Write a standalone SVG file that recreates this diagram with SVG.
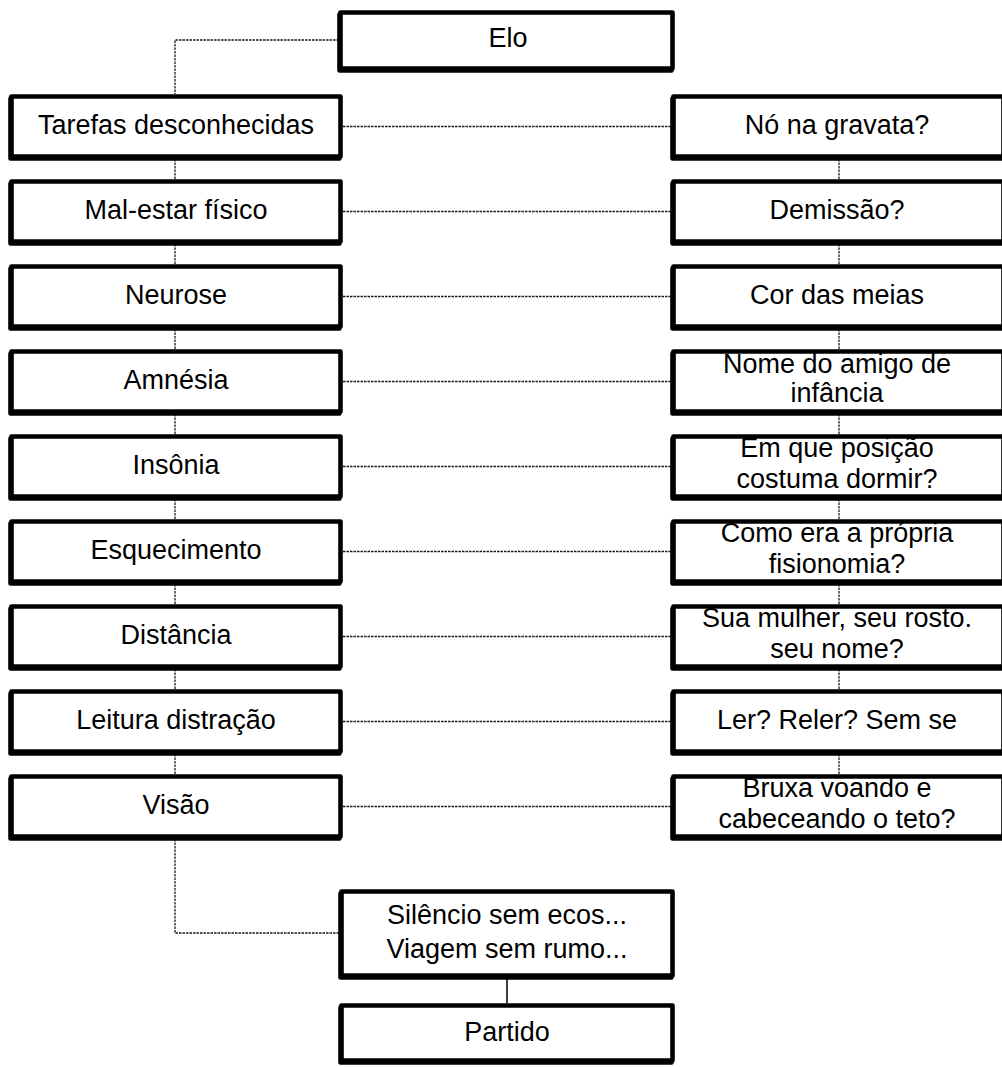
<svg xmlns="http://www.w3.org/2000/svg" width="1002" height="1067" viewBox="0 0 1002 1067">
  <defs>
    <!-- hard black offset shadow: thickens the left and bottom border of each box -->
    <filter id="edge" x="-5%" y="-10%" width="110%" height="120%">
      <feOffset in="SourceAlpha" dx="-1.2" dy="1.5" result="off"/>
      <feMerge>
        <feMergeNode in="off"/>
        <feMergeNode in="SourceGraphic"/>
      </feMerge>
    </filter>
  </defs>
  <style>
    .box { fill: #ffffff; stroke: #000000; stroke-width: 4.6; stroke-linejoin: round; filter: url(#edge); }
    .lbl { font-family: "Liberation Sans", Arial, sans-serif; font-size: 27px; fill: #000000; text-anchor: middle; }
    .dot { fill: none; stroke: #1a1a1a; stroke-width: 1.3; stroke-dasharray: 2.5 1; }
    .solid { fill: none; stroke: #000000; stroke-width: 1.5; }
  </style>
  <rect width="1002" height="1067" fill="#ffffff"/>

  <!-- connectors -->
  <g id="connectors">
    <polyline class="dot" points="339,40 175,40 175,94"/>
    <!-- left column spine -->
    <line class="dot" x1="175" y1="159" x2="175" y2="179"/>
    <line class="dot" x1="175" y1="244" x2="175" y2="264"/>
    <line class="dot" x1="175" y1="329" x2="175" y2="349"/>
    <line class="dot" x1="175" y1="414" x2="175" y2="434"/>
    <line class="dot" x1="175" y1="499" x2="175" y2="519"/>
    <line class="dot" x1="175" y1="584" x2="175" y2="604"/>
    <line class="dot" x1="175" y1="669" x2="175" y2="689"/>
    <line class="dot" x1="175" y1="754" x2="175" y2="774"/>
    <!-- right column spine -->
    <line class="dot" x1="839" y1="159" x2="839" y2="179"/>
    <line class="dot" x1="839" y1="244" x2="839" y2="264"/>
    <line class="dot" x1="839" y1="329" x2="839" y2="349"/>
    <line class="dot" x1="839" y1="414" x2="839" y2="434"/>
    <line class="dot" x1="839" y1="499" x2="839" y2="519"/>
    <line class="dot" x1="839" y1="584" x2="839" y2="604"/>
    <line class="dot" x1="839" y1="669" x2="839" y2="689"/>
    <line class="dot" x1="839" y1="754" x2="839" y2="774"/>
    <!-- row links -->
    <line class="dot" x1="343" y1="126.5" x2="671" y2="126.5"/>
    <line class="dot" x1="343" y1="211.5" x2="671" y2="211.5"/>
    <line class="dot" x1="343" y1="296.5" x2="671" y2="296.5"/>
    <line class="dot" x1="343" y1="381.5" x2="671" y2="381.5"/>
    <line class="dot" x1="343" y1="466.5" x2="671" y2="466.5"/>
    <line class="dot" x1="343" y1="551.5" x2="671" y2="551.5"/>
    <line class="dot" x1="343" y1="636.5" x2="671" y2="636.5"/>
    <line class="dot" x1="343" y1="721.5" x2="671" y2="721.5"/>
    <line class="dot" x1="343" y1="806.5" x2="671" y2="806.5"/>
    <!-- bottom -->
    <polyline class="dot" points="175,839 175,933 339,933"/>
    <line class="solid" x1="507" y1="978" x2="507" y2="1003"/>
  </g>

  <g id="n-elo">
    <rect class="box" x="340.5" y="12.5" width="332" height="56"/>
    <text class="lbl" x="508" y="47">Elo</text>
  </g>

  <!-- left column -->
  <g id="n-tarefas">
    <rect class="box" x="11.5" y="96.5" width="329" height="60"/>
    <text class="lbl" x="176" y="134">Tarefas desconhecidas</text>
  </g>
  <g id="n-malestar">
    <rect class="box" x="11.5" y="181.5" width="329" height="60"/>
    <text class="lbl" x="176" y="219">Mal-estar físico</text>
  </g>
  <g id="n-neurose">
    <rect class="box" x="11.5" y="266.5" width="329" height="60"/>
    <text class="lbl" x="176" y="304">Neurose</text>
  </g>
  <g id="n-amnesia">
    <rect class="box" x="11.5" y="351.5" width="329" height="60"/>
    <text class="lbl" x="176" y="389">Amnésia</text>
  </g>
  <g id="n-insonia">
    <rect class="box" x="11.5" y="436.5" width="329" height="60"/>
    <text class="lbl" x="176" y="474">Insônia</text>
  </g>
  <g id="n-esquecimento">
    <rect class="box" x="11.5" y="521.5" width="329" height="60"/>
    <text class="lbl" x="176" y="559">Esquecimento</text>
  </g>
  <g id="n-distancia">
    <rect class="box" x="11.5" y="606.5" width="329" height="60"/>
    <text class="lbl" x="176" y="644">Distância</text>
  </g>
  <g id="n-leitura">
    <rect class="box" x="11.5" y="691.5" width="329" height="60"/>
    <text class="lbl" x="176" y="729">Leitura distração</text>
  </g>
  <g id="n-visao">
    <rect class="box" x="11.5" y="776.5" width="329" height="60"/>
    <text class="lbl" x="176" y="814">Visão</text>
  </g>

  <!-- right column -->
  <g id="n-no">
    <rect class="box" x="673.5" y="96.5" width="330" height="60"/>
    <text class="lbl" x="837" y="134">Nó na gravata?</text>
  </g>
  <g id="n-demissao">
    <rect class="box" x="673.5" y="181.5" width="330" height="60"/>
    <text class="lbl" x="837" y="219">Demissão?</text>
  </g>
  <g id="n-cor">
    <rect class="box" x="673.5" y="266.5" width="330" height="60"/>
    <text class="lbl" x="837" y="304">Cor das meias</text>
  </g>
  <g id="n-nome">
    <rect class="box" x="673.5" y="351.5" width="330" height="60"/>
    <text class="lbl" x="837" y="373">Nome do amigo de</text>
    <text class="lbl" x="837" y="402">infância</text>
  </g>
  <g id="n-posicao">
    <rect class="box" x="673.5" y="436.5" width="330" height="60"/>
    <text class="lbl" x="837" y="457">Em que posição</text>
    <text class="lbl" x="837" y="488">costuma dormir?</text>
  </g>
  <g id="n-fisionomia">
    <rect class="box" x="673.5" y="521.5" width="330" height="60"/>
    <text class="lbl" x="837" y="542">Como era a própria</text>
    <text class="lbl" x="837" y="573">fisionomia?</text>
  </g>
  <g id="n-mulher">
    <rect class="box" x="673.5" y="606.5" width="330" height="60"/>
    <text class="lbl" x="837" y="627">Sua mulher, seu rosto.</text>
    <text class="lbl" x="837" y="658">seu nome?</text>
  </g>
  <g id="n-ler">
    <rect class="box" x="673.5" y="691.5" width="330" height="60"/>
    <text class="lbl" x="837" y="729">Ler? Reler? Sem se</text>
  </g>
  <g id="n-bruxa">
    <rect class="box" x="673.5" y="776.5" width="330" height="60"/>
    <text class="lbl" x="837" y="797">Bruxa voando e</text>
    <text class="lbl" x="837" y="828">cabeceando o teto?</text>
  </g>

  <!-- bottom nodes -->
  <g id="n-silencio">
    <rect class="box" x="341.5" y="891.5" width="331" height="84"/>
    <text class="lbl" x="507" y="924">Silêncio sem ecos...</text>
    <text class="lbl" x="507" y="958">Viagem sem rumo...</text>
  </g>
  <g id="n-partido">
    <rect class="box" x="341.5" y="1005.5" width="331" height="55"/>
    <text class="lbl" x="507" y="1041">Partido</text>
  </g>
</svg>
